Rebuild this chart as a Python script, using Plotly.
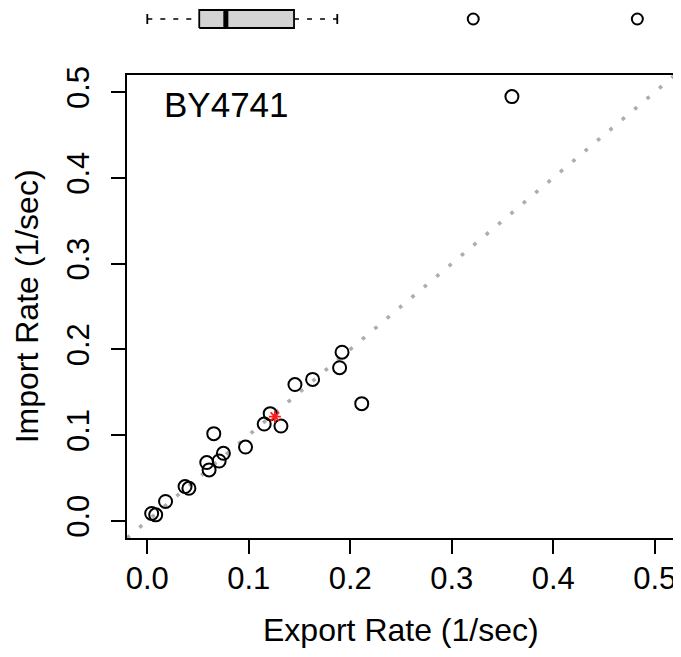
import plotly.graph_objects as go

# ---- data ----
export_rate = [0.0043, 0.0083, 0.0180, 0.0372, 0.0410, 0.0586, 0.0609, 0.0708, 0.0750,
               0.0655, 0.0968, 0.1152, 0.1211, 0.1317, 0.1455, 0.1629, 0.1895, 0.1919,
               0.2113, 0.3593]
import_rate = [0.0086, 0.0070, 0.0226, 0.0400, 0.0380, 0.0680, 0.0594, 0.0698, 0.0788,
               0.1017, 0.0861, 0.1129, 0.1250, 0.1106, 0.1590, 0.1650, 0.1786, 0.1967,
               0.1367, 0.4948]
ref_export = [0.1257]
ref_import = [0.1215]

box_lowerfence = 0.0
box_q1 = 0.0512
box_median = 0.0774
box_q3 = 0.1446
box_upperfence = 0.1872
box_outliers = [0.3212, 0.4829]

axis_range = [-0.02, 0.52]
tick_vals = [0.0, 0.1, 0.2, 0.3, 0.4, 0.5]
tick_text = ["0.0", "0.1", "0.2", "0.3", "0.4", "0.5"]

x_title = "Export Rate (1/sec)"
y_title = "Import Rate (1/sec)"
label = "BY4741"

FONT = "Liberation Sans, Arial, Helvetica, sans-serif"
H = 0.818   # half box height (y2 units)
S = 0.455   # half staple height

fig = go.Figure()

# identity line
fig.add_trace(go.Scatter(x=axis_range, y=axis_range, mode="lines",
                         line=dict(color="#ADADAD", width=3.6, dash="3.6px,12.6px"),
                         hoverinfo="skip"))
# points
fig.add_trace(go.Scatter(x=export_rate, y=import_rate, mode="markers",
                         marker=dict(symbol="circle-open", size=13, color="black",
                                     line=dict(color="black", width=2))))
fig.add_trace(go.Scatter(x=ref_export, y=ref_import, mode="markers",
                         marker=dict(symbol="asterisk-open", size=10, color="#FF1A1A",
                                     line=dict(color="#FF1A1A", width=1.8))))

# ---- boxplot on top ----
dash_w = dict(color="black", width=1.5, dash="5px,8px")
fig.add_trace(go.Scatter(x=[box_lowerfence, box_q1], y=[0, 0], mode="lines",
                         line=dash_w, yaxis="y2", hoverinfo="skip"))
fig.add_trace(go.Scatter(x=[box_q3, box_upperfence], y=[0, 0], mode="lines",
                         line=dash_w, yaxis="y2", hoverinfo="skip"))
for v in (box_lowerfence, box_upperfence):
    fig.add_trace(go.Scatter(x=[v, v], y=[-S, S], mode="lines",
                             line=dict(color="black", width=1.8), yaxis="y2",
                             hoverinfo="skip"))
fig.add_trace(go.Scatter(x=[box_q1, box_q3, box_q3, box_q1, box_q1],
                         y=[-H, -H, H, H, -H], mode="lines", fill="toself",
                         fillcolor="#D3D3D3", line=dict(color="black", width=1.8),
                         yaxis="y2", hoverinfo="skip"))
fig.add_trace(go.Scatter(x=[box_median, box_median], y=[-H, H], mode="lines",
                         line=dict(color="black", width=5), yaxis="y2",
                         hoverinfo="skip"))
fig.add_trace(go.Scatter(x=box_outliers, y=[0] * len(box_outliers), mode="markers",
                         marker=dict(symbol="circle-open", size=11, color="black",
                                     line=dict(color="black", width=2)),
                         yaxis="y2", cliponaxis=False))

axis_common = dict(
    range=axis_range, tickvals=tick_vals, ticktext=tick_text,
    ticks="outside", ticklen=14, tickwidth=1.5, tickcolor="black",
    showline=True, mirror=True, linecolor="black", linewidth=1.5,
    showgrid=False, zeroline=False, automargin=False,
    tickfont=dict(family=FONT, size=31, color="black"),
)

fig.update_layout(
    template="none",
    width=681, height=657,
    margin=dict(l=119, r=14, t=0, b=127),
    paper_bgcolor="white", plot_bgcolor="white",
    showlegend=False,
    xaxis=dict(**axis_common, ticklabelstandoff=-2),
    yaxis=dict(**axis_common, domain=[0, 0.87358], tickangle=-90,
               ticklabelstandoff=10),
    yaxis2=dict(domain=[0.95849, 1.0], range=[-1, 1], visible=False,
                anchor="x", fixedrange=True),
    annotations=[
        dict(text=label, xref="x domain", yref="y domain",
             x=0.0639, y=0.937, xanchor="left", yanchor="middle",
             showarrow=False, font=dict(family=FONT, size=35, color="black")),
        dict(text=x_title, xref="paper", yref="paper",
             x=0.5, y=-0.1736, xanchor="center", yanchor="middle",
             showarrow=False, font=dict(family=FONT, size=32, color="black")),
        dict(text=y_title, xref="paper", yref="y domain", textangle=-90,
             x=-0.1828, y=0.5, xanchor="center", yanchor="middle",
             showarrow=False, font=dict(family=FONT, size=32, color="black")),
    ],
)

fig.write_html("out.html")
